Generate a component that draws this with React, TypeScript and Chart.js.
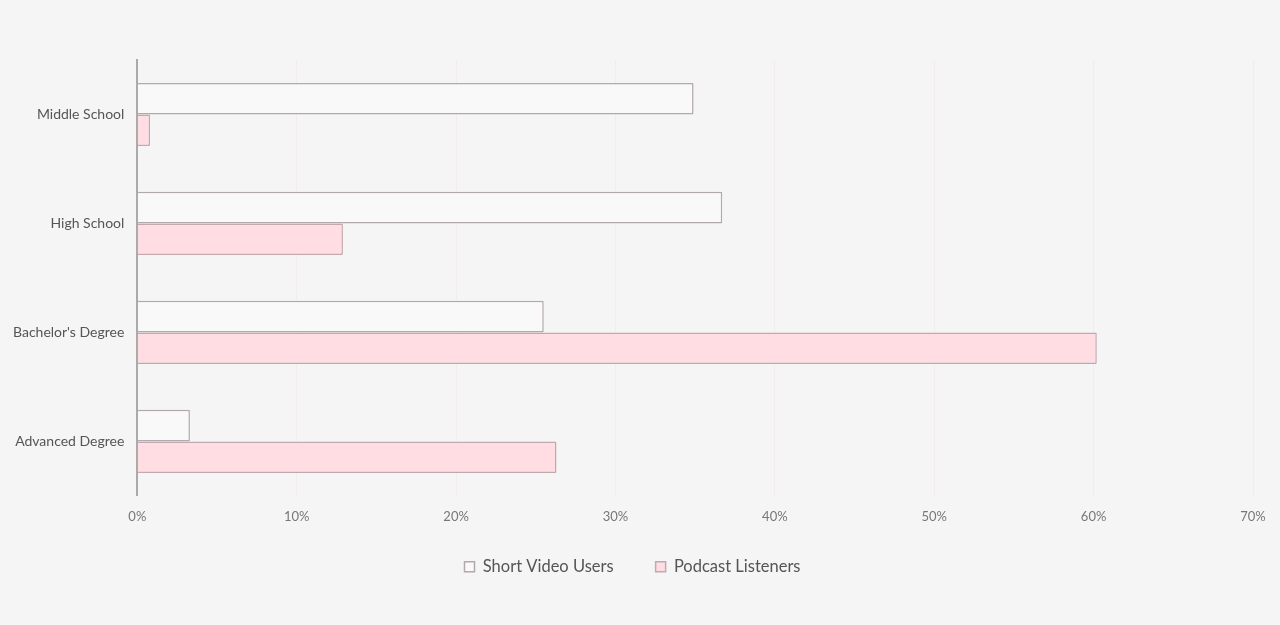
import React, { useEffect, useRef } from "react";
import { Chart, registerables } from "chart.js";

Chart.register(...registerables);

const categories = ["Middle School", "High School", "Bachelor's Degree", "Advanced Degree"];
const shortVideoUsers = [34.9, 36.7, 25.5, 3.3];
const podcastListeners = [0.8, 12.9, 60.2, 26.3];
const xTicks = [0, 10, 20, 30, 40, 50, 60, 70];

const legendShift = {
  id: "legendShift",
  afterInit(chart: any) {
    const legend = chart.legend;
    if (!legend || legend.__shifted) return;
    const orig = legend.draw.bind(legend);
    legend.draw = function () {
      const ctx = chart.ctx;
      ctx.save();
      ctx.translate(6, -21);
      orig();
      ctx.restore();
    };
    legend.__shifted = true;
  },
};

export default function App() {
  const ref = useRef<HTMLCanvasElement | null>(null);
  useEffect(() => {
    if (!ref.current) return;
    const chart = new Chart(ref.current, {
      type: "bar",
      data: {
        labels: categories,
        datasets: [
          {
            label: "Short Video Users",
            data: shortVideoUsers,
            backgroundColor: "#f9f9f9",
            borderColor: "#b3a8ab",
            borderWidth: 1.5,
            borderRadius: 1,
            borderSkipped: "start",
          },
          {
            label: "Podcast Listeners",
            data: podcastListeners,
            backgroundColor: "#ffdde3",
            borderColor: "#c0aaaf",
            borderWidth: 1.5,
            borderRadius: 1,
            borderSkipped: "start",
          },
        ],
      },
      options: {
        indexAxis: "y",
        responsive: false,
        animation: false,
        maintainAspectRatio: false,
        layout: { padding: { top: 60, right: 27, left: 0, bottom: 19 } },
        datasets: { bar: { categoryPercentage: 0.58, barPercentage: 1.0 } },
        scales: {
          x: {
            min: 0,
            max: 70,
            afterBuildTicks: (axis: any) => {
              axis.ticks = xTicks.map((v) => ({ value: v }));
            },
            ticks: {
              callback: (v: any) => v + "%",
              color: "#777",
              font: { family: "Lato", size: 13 },
              padding: 13,
            },
            grid: { color: "rgba(240,215,220,0.3)", drawTicks: false },
            border: { display: false },
          },
          y: {
            ticks: {
              color: "#555",
              font: { family: "Lato", size: 14 },
              padding: 13,
            },
            grid: { display: false, drawTicks: false },
            border: { display: true, color: "#aaa", width: 2 },
          },
        },
        plugins: {
          legend: {
            position: "bottom",
            labels: {
              boxWidth: 10,
              boxHeight: 10,
              color: "#555",
              font: { family: "Lato", size: 16.5 },
              padding: 42,
            },
          },
          tooltip: { enabled: false },
        },
      },
      plugins: [legendShift],
    });
    return () => chart.destroy();
  }, []);
  return (
    <div style={{ position: "fixed", inset: 0, background: "#f5f5f5" }}>
      <canvas ref={ref} width={1280} height={625} style={{ display: "block" }} />
    </div>
  );
}
